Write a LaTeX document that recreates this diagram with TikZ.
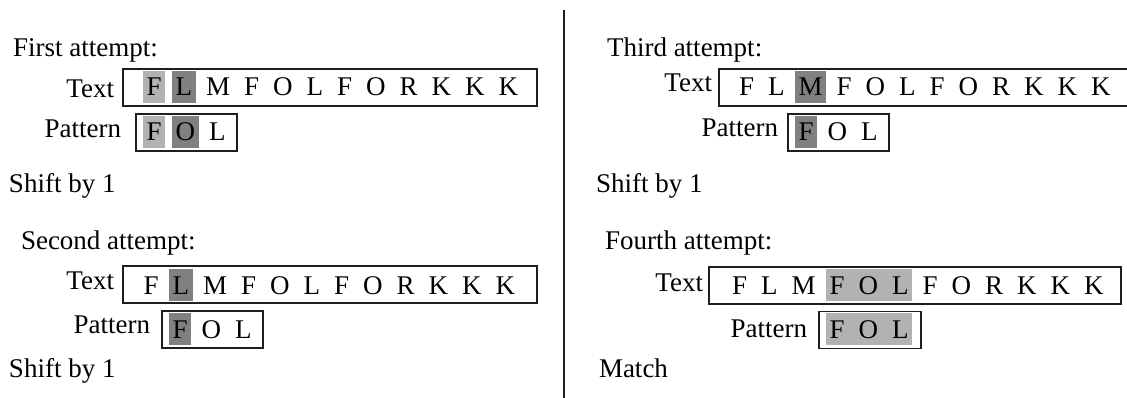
\documentclass[tikz,border=0pt]{standalone}
\usepackage{fontspec}
\setmainfont{Liberation Serif}
\usetikzlibrary{positioning,backgrounds}
\definecolor{lightshade}{RGB}{178,178,178}
\definecolor{darkshade}{RGB}{128,128,128}
\definecolor{framecol}{RGB}{30,30,30}
\newcommand{\glyphrow}[4]{%
  \foreach \l [count=\i] in {#4} {%
    \ifnum\i=1
      \node[glyph, anchor=west] (#1-1) at (#2,#3) {\l};
    \else
      \pgfmathtruncatemacro\j{\i-1}%
      \node[glyph, right=7pt of #1-\j] (#1-\i) {\l};
    \fi
  }%
}
\begin{document}
\begin{tikzpicture}[x=1pt, y=-1pt,
  font=\fontsize{27}{32}\selectfont,
  glyph/.style={inner xsep=3.5pt, inner ysep=3.5pt, text height=21.5pt, text depth=3.5pt, outer sep=0pt},
  frame/.style={draw=framecol, line width=1.4pt, inner sep=0pt, outer sep=0pt},
  lbl/.style={inner sep=0pt, outer sep=0pt},
  divider/.style={draw=framecol, line width=1.3pt}]
\useasboundingbox (0,0) rectangle (1127,398);

% divider
\coordinate (dtop) at (564,10);
\coordinate (dbot) at (564,398);
\draw[divider] (dtop) -- (dbot);

% ---------- First attempt ----------
\node[lbl, anchor=base west] (title1) at (13,57) {First attempt:};
\node[lbl, anchor=base east] (ltext1) at (114,98) {Text};
\node[frame, minimum width=414pt, minimum height=37pt, anchor=west] (tb1) at (123,87.5) {};
\glyphrow{t1}{143}{87}{F,L,M,F,O,L,F,O,R,K,K,K}
\node[lbl, anchor=base east] (lpat1) at (121,138) {Pattern};
\node[frame, minimum width=101pt, minimum height=37pt, anchor=west] (pb1) at (136,132.5) {};
\glyphrow{p1}{143}{132}{F,O,L}
\node[lbl, anchor=base west] (res1) at (9,193) {Shift by 1};

% ---------- Second attempt ----------
\node[lbl, anchor=base west] (title2) at (21,250) {Second attempt:};
\node[lbl, anchor=base east] (ltext2) at (114,289) {Text};
\node[frame, minimum width=414pt, minimum height=37pt, anchor=west] (tb2) at (123,284.5) {};
\glyphrow{t2}{140}{285}{F,L,M,F,O,L,F,O,R,K,K,K}
\node[lbl, anchor=base east] (lpat2) at (150,333) {Pattern};
\node[frame, minimum width=101pt, minimum height=37pt, anchor=west] (pb2) at (162,329.5) {};
\glyphrow{p2}{169}{329}{F,O,L}
\node[lbl, anchor=base west] (res2) at (9,377) {Shift by 1};

% ---------- Third attempt ----------
\node[lbl, anchor=base west] (title3) at (607,57) {Third attempt:};
\node[lbl, anchor=base east] (ltext3) at (712,92) {Text};
\node[frame, minimum width=412pt, minimum height=37pt, anchor=west] (tb3) at (719,87.5) {};
\glyphrow{t3}{735.5}{87}{F,L,M,F,O,L,F,O,R,K,K,K}
\node[lbl, anchor=base east] (lpat3) at (778,137) {Pattern};
\node[frame, minimum width=101pt, minimum height=37pt, anchor=west] (pb3) at (788,132.5) {};
\glyphrow{p3}{795}{132}{F,O,L}
\node[lbl, anchor=base west] (res3) at (596,193) {Shift by 1};

% ---------- Fourth attempt ----------
\node[lbl, anchor=base west] (title4) at (605,250) {Fourth attempt:};
\node[lbl, anchor=base east] (ltext4) at (703,291) {Text};
\node[frame, minimum width=412pt, minimum height=37pt, anchor=west] (tb4) at (709,285.5) {};
\glyphrow{t4}{728.5}{285}{F,L,M,F,O,L,F,O,R,K,K,K}
\node[lbl, anchor=base east] (lpat4) at (807,337) {Pattern};
\node[frame, minimum width=102pt, minimum height=37pt, anchor=west] (pb4) at (819,330) {};
\glyphrow{p4}{826}{329}{F,O,L}
\node[lbl, anchor=base west] (res4) at (599,377) {Match};

% ---------- shading ----------
\begin{scope}[on background layer]
  \fill[lightshade] (t1-1.south west) rectangle (t1-1.north east);
  \fill[darkshade]  (t1-2.south west) rectangle (t1-2.north east);
  \fill[lightshade] (p1-1.south west) rectangle (p1-1.north east);
  \fill[darkshade]  (p1-2.south west) rectangle (p1-2.north east);
  \fill[darkshade]  (t2-2.south west) rectangle (t2-2.north east);
  \fill[darkshade]  (p2-1.south west) rectangle (p2-1.north east);
  \fill[darkshade]  (t3-3.south west) rectangle (t3-3.north east);
  \fill[darkshade]  (p3-1.south west) rectangle (p3-1.north east);
  \fill[lightshade] (t4-4.south west) rectangle (t4-6.north east);
  \fill[lightshade] (p4-1.south west) rectangle (p4-3.north east);
\end{scope}
\end{tikzpicture}
\end{document}
